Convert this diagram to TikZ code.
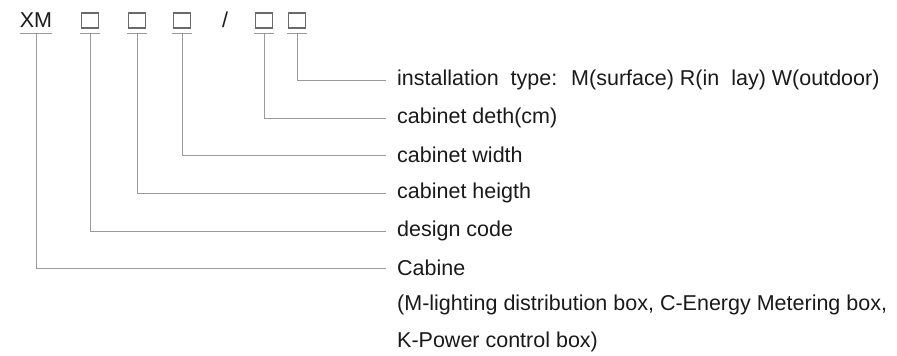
\documentclass[tikz,border=0pt]{standalone}
\usepackage{fontspec}
\setmainfont{Liberation Sans}
\usepackage{tikz}
\usetikzlibrary{positioning}

\definecolor{txtgray}{HTML}{1A1A1A}
\definecolor{rulegray}{HTML}{9A9A9A}
\definecolor{boxgray}{HTML}{6A6A6A}

\tikzset{
  codebox/.style={draw=boxgray,line width=1.1pt,minimum width=17pt,minimum height=15pt,inner sep=0pt},
  codetxt/.style={text=txtgray,inner sep=0pt,font=\fontsize{21.5}{25}\selectfont},
  lbl/.style={anchor=west,text=txtgray,inner xsep=11pt,inner ysep=0pt,font=\fontsize{21.5}{25}\selectfont},
  rule/.style={draw=rulegray,line width=1pt},
}

\begin{document}
\begin{tikzpicture}[x=1pt,y=-1pt]
\useasboundingbox (0,0) rectangle (897,356);

% code line
\node[codetxt] (xm) at (36,20) {XM};
\node[codebox] (c1) at (90,20.5) {};
\node[codebox] (c2) at (137,20.5) {};
\node[codebox] (c3) at (182,20.5) {};
\node[codetxt] (sl) at (225,20) {/};
\node[codebox] (c4) at (264,20.5) {};
\node[codebox] (c5) at (297,20.5) {};

% labels
\node[lbl] (l5) at (386,80) {installation~ type:~ M(surface) R(in~ lay) W(outdoor)};
\node[lbl] (l4) at (386,118) {cabinet deth(cm)};
\node[lbl] (l3) at (386,155) {cabinet width};
\node[lbl] (l2) at (386,193) {cabinet heigth};
\node[lbl] (l1) at (386,231) {design code};
\node[lbl] (l0) at (386,268) {Cabine};
\node[lbl] (l0b) at ([yshift=-37pt]l0.west) {(M-lighting distribution box, C-Energy Metering box,};
\node[lbl] (l0c) at ([yshift=-37pt]l0b.west) {K-Power control box)};

% underlines and leaders
\draw[rule] (20,33) -- (52,33);
\draw[rule] (36,33) |- (l0.west);
\foreach \c/\l in {c1/l1,c2/l2,c3/l3,c4/l4,c5/l5}{
  \draw[rule] ([yshift=-5pt]\c.south) ++(-10pt,0) -- ++(20pt,0);
  \draw[rule] ([yshift=-5pt]\c.south) |- (\l.west);
}
\end{tikzpicture}
\end{document}
